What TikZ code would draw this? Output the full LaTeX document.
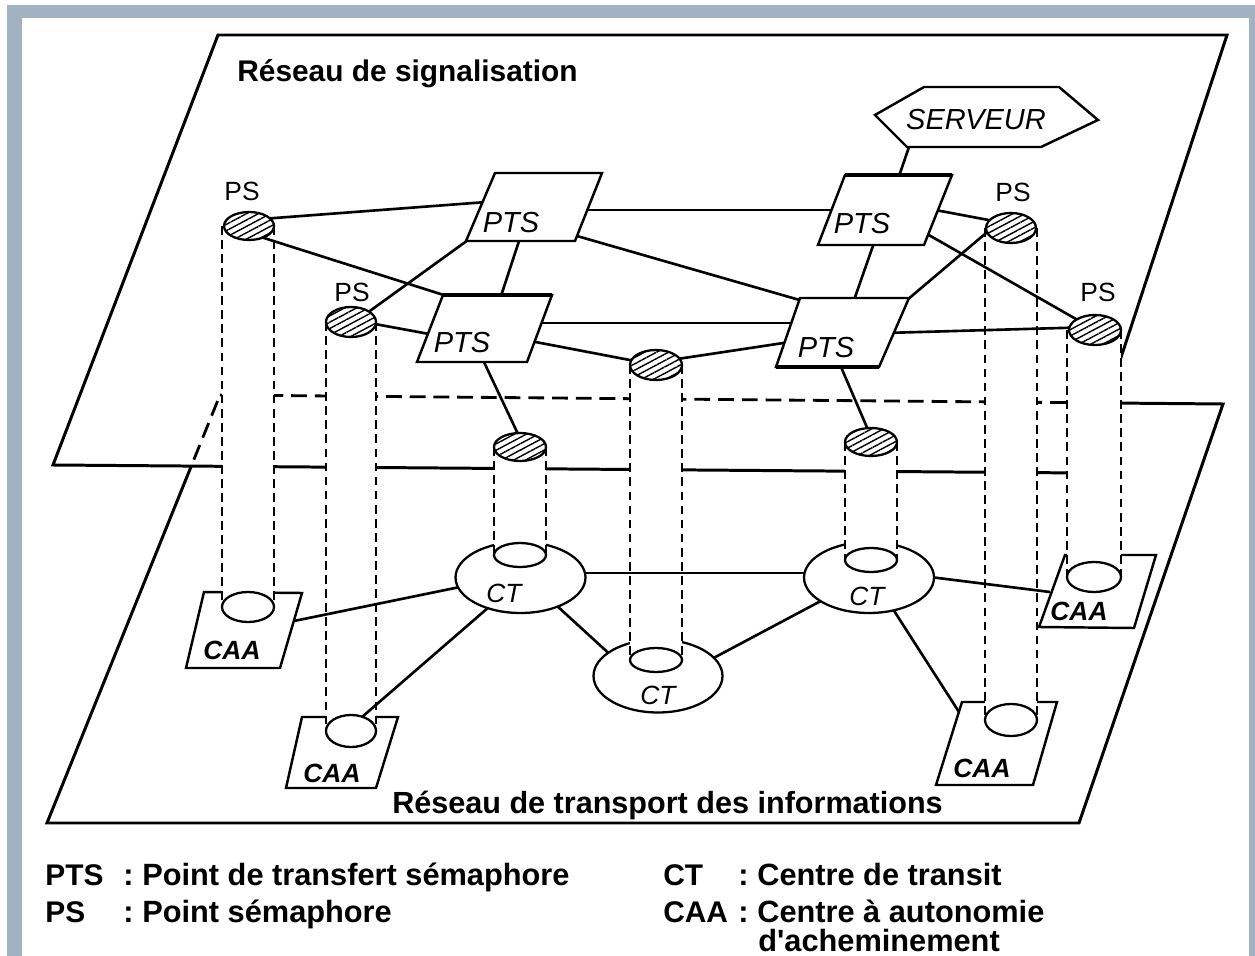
\documentclass[tikz,border=0pt]{standalone}
\usepackage{fontspec}
\setmainfont{Liberation Sans}
\usetikzlibrary{shapes.geometric,patterns.meta}
\pgfdeclarelayer{planes}
\pgfdeclarelayer{ground}
\pgfdeclarelayer{links}
\pgfsetlayers{planes,ground,links,main}
\definecolor{framegray}{RGB}{163,178,194}
\begin{document}
\begin{tikzpicture}[x=0.02cm,y=-0.02cm,
  plane/.style={line width=1.7pt, line join=miter},
  hiddenedge/.style={line width=1.6pt, dash pattern=on 9pt off 4.5pt},
  link/.style={line width=1.5pt},
  cylside/.style={line width=0.85pt, dash pattern=on 5pt off 3pt},
  ptsbox/.style={draw, fill=white, line width=1.4pt, line join=miter},
  thickedge/.style={line width=2.4pt},
  caabox/.style={draw, fill=white, line width=1.4pt, line join=miter},
  hatched/.style={ellipse, draw, line width=1.3pt, inner sep=0pt, outer sep=0pt,
    minimum width=1cm, minimum height=0.56cm,
    preaction={fill=white}, pattern={Lines[angle=28,distance=3.2pt,line width=0.8pt]}},
  ctell/.style={ellipse, draw, fill=white, line width=1.3pt, inner sep=0pt, outer sep=0pt,
    minimum width=2.6cm, minimum height=1.42cm},
  pslabel/.style={font=\fontsize{15}{15}\selectfont, inner sep=0pt},
  ptslabel/.style={font=\itshape\fontsize{16.5}{16.5}\selectfont, inner sep=0pt},
  ctlabel/.style={font=\itshape\fontsize{15}{15}\selectfont, inner sep=0pt},
  caalabel/.style={font=\bfseries\itshape\fontsize{15}{15}\selectfont, inner sep=0pt},
  title/.style={font=\bfseries\fontsize{17}{17}\selectfont, inner sep=0pt, anchor=base west},
  legkey/.style={font=\bfseries\fontsize{17}{17}\selectfont, inner sep=0pt, anchor=base west},
  legend/.style={font=\bfseries\fontsize{17.5}{17.5}\selectfont, inner sep=0pt, anchor=base west}
]
\useasboundingbox (0,0) rectangle (1255,956);

% ---------------- planes ----------------
\begin{pgfonlayer}{planes}
\fill[white] (0,0) rectangle (1255,956);
\fill[framegray] (7,5) rectangle (1255,956);
\fill[white] (22,18) rectangle (1249,956);
% bottom plane (transport)
\draw[plane] (220,395) -- (1223,404) -- (1079,823) -- (47,823) -- cycle;
% top plane (signalisation)
\draw[plane, fill=white] (218,35) -- (1227,35) -- (1083,473) -- (53,465) -- cycle;
% hidden part of the bottom plane
\begin{scope}
\clip (218,35) -- (1227,35) -- (1083,473) -- (53,465) -- cycle;
\draw[hiddenedge] (220,395) -- (1223,404) -- (1079,823) -- (47,823) -- cycle;
\end{scope}
\end{pgfonlayer}

% ---------------- transport level ----------------
\begin{pgfonlayer}{ground}
\node[ctell] (ctL) at (520.5,577.5) {};
\node[ctell] (ctR) at (869,577.5) {};
\node[ctell, minimum width=2.58cm, minimum height=1.46cm] (ctC) at (658,676) {};
\draw[caabox] (204,592) -- (302,593) -- (280,668) -- (186,668) -- cycle;
\draw[caabox] (302,717) -- (398,717) -- (376,788) -- (286,788) -- cycle;
\draw[caabox] (962,702) -- (1057,702) -- (1033,785) -- (936,785) -- cycle;
\draw[caabox] (1065,555) -- (1156,555) -- (1134,628) -- (1039,627) -- cycle;
% cylinders
\foreach \cx/\yt/\yb/\r/\ry in {248/226/607/26/15, 351/322/731/25/16, 520/447/555/26/12,
    656/365/660/26/12, 871/442/560/26/12, 1011/228/720/26/16, 1094/330/577/27/15}{
  \fill[white] (\cx-\r,\yt) rectangle (\cx+\r,\yb);
  \draw[cylside] (\cx-\r,\yt) -- (\cx-\r,\yb);
  \draw[cylside] (\cx+\r,\yt) -- (\cx+\r,\yb);
  \draw[line width=1.3pt, fill=white] (\cx,\yb) ellipse [x radius=\r, y radius=\ry];
}
\end{pgfonlayer}

% ---------------- signalling nodes ----------------
\node[hatched] (ps1) at (249,226) {};
\node[hatched, minimum height=0.6cm] (ps2) at (351,322) {};
\node[hatched, minimum width=1.04cm] (h3) at (520,447) {};
\node[hatched, minimum width=1.04cm, minimum height=0.6cm] (ps5) at (656,365) {};
\node[hatched, minimum width=1.04cm] (h5) at (871,442) {};
\node[hatched, minimum height=0.6cm] (ps3) at (1011,228) {};
\node[hatched, minimum width=1.04cm, minimum height=0.6cm] (ps4) at (1095,330) {};

% PTS boxes
\draw[ptsbox] (495,173) -- (602,173) -- (575,241) -- (466,241) -- cycle;
\draw[ptsbox] (443,295) -- (552,295) -- (527,362) -- (417,362) -- cycle;
\draw[thickedge] (443,295) -- (552,295);
\draw[ptsbox] (845,175) -- (952,175) -- (924,245) -- (818,245) -- cycle;
\draw[thickedge] (845,175) -- (952,175);
\draw[ptsbox] (800,298) -- (909,298) -- (879,367) -- (776,367) -- cycle;
\draw[thickedge] (776,367) -- (879,367);
\node[ptslabel] (ptsA) at (511,223) {PTS};
\node[ptslabel] (ptsB) at (462,343) {PTS};
\node[ptslabel] (ptsC) at (862,224) {PTS};
\node[ptslabel] (ptsD) at (826,348) {PTS};

% SERVEUR
\draw[ptsbox] (875,115) -- (924,87) -- (1059,87) -- (1098,120) -- (1041,147) -- (907,147) -- cycle;
\node[ptslabel] (serveur) at (976,120) {SERVEUR};

% link end points inside the boxes
\coordinate (srvS) at (909,147);
\coordinate (ptsA-w) at (500,201);
\coordinate (ptsA-bl) at (475,235);
\coordinate (ptsA-s) at (520,238);
\coordinate (ptsA-e) at (580,210);
\coordinate (ptsA-se) at (570,234);
\coordinate (ptsB-tl) at (455,298.6);
\coordinate (ptsB-w) at (440,336);
\coordinate (ptsB-n) at (500,299);
\coordinate (ptsB-e) at (535,323);
\coordinate (ptsB-ee) at (525,340);
\coordinate (ptsB-s) at (483,360);
\coordinate (ptsC-w) at (835,210);
\coordinate (ptsC-s) at (875,240);
\coordinate (ptsC-e) at (930,209);
\coordinate (ptsC-se) at (920,230);
\coordinate (ptsC-n) at (897,182);
\coordinate (ptsD-nw) at (810,303);
\coordinate (ptsD-w) at (800,323);
\coordinate (ptsD-ww) at (790,342);
\coordinate (ptsD-s) at (838,360);
\coordinate (ptsD-n) at (853,303);
\coordinate (ptsD-ne) at (900,306);
\coordinate (ptsD-e) at (885,333);
\coordinate (caaL-e) at (294,621);
\coordinate (caaBL-n) at (362,717);
\coordinate (caaR-w) at (1050,592);
\coordinate (caaBR-nw) at (959,712);

% ---------------- links ----------------
\begin{pgfonlayer}{links}
\draw[link] (ps1.20) -- (ptsA-w);
\draw[link] (ps1.-40) -- (ptsB-tl);
\draw[link] (ps2.30) -- (ptsA-bl);
\draw[link] (ps2.-5) -- (ptsB-w);
\draw[link] (ptsA-s) -- (ptsB-n);
\draw[link] (ptsA-e) -- (ptsC-w);
\draw[link] (ptsA-se) -- (ptsD-nw);
\draw[link] (ptsB-e) -- (ptsD-w);
\draw[link] (ptsB-ee) -- (ps5);
\draw[link] (ptsB-s) -- (h3.100);
\draw[link] (ps5.15) -- (ptsD-ww);
\draw[link] (ptsD-s) -- (h5.105);
\draw[link] (ptsC-s) -- (ptsD-n);
\draw[link] (ptsC-e) -- (ps3.160);
\draw[link] (ptsC-se) -- (ps4.150);
\draw[link] (ptsD-ne) -- (ps3.190);
\draw[link] (ptsD-e) -- (ps4.175);
\draw[link] (srvS) -- (ptsC-n);
% transport links
\draw[link] (caaL-e) -- (ctL.189);
\draw[link] (caaBL-n) -- (ctL.223);
\draw[link] (ctL.4) -- (ctR.176);
\draw[link] (ctL.-38) -- (ctC.155);
\draw[link] (ctC.18) -- (ctR.206);
\draw[link] (ctR.east) -- (caaR-w);
\draw[link] (ctR.-53) -- (caaBR-nw);
\end{pgfonlayer}

% ---------------- labels ----------------
\node[pslabel] (lps1) at (242,191) {PS};
\node[pslabel] (lps2) at (352,292) {PS};
\node[pslabel] (lps3) at (1013,192) {PS};
\node[pslabel] (lps4) at (1098,292) {PS};
\node[ctlabel] (lctL) at (504,593) {CT};
\node[ctlabel] (lctR) at (867,596) {CT};
\node[ctlabel] (lctC) at (658,695) {CT};
\node[caalabel] (caaL) at (232,650) {CAA};
\node[caalabel] (caaBL) at (332,773) {CAA};
\node[caalabel] (caaBR) at (982,768) {CAA};
\node[caalabel] (caaR) at (1079,611) {CAA};

\node[title] (t1) at (237,82) {Réseau de signalisation};
\node[title, font=\bfseries\fontsize{17.4}{17.4}\selectfont] (t2) at (392,813) {Réseau de transport des informations};

\node[legkey] (k1) at (45,885) {PTS};
\node[legend] (c1) at (123,885) {:};
\node[legend] (v1) at (142,885) {Point de transfert sémaphore};
\node[legkey] (k2) at (45,922) {PS};
\node[legend] (c2) at (123,922) {:};
\node[legend] (v2) at (142,922) {Point sémaphore};
\node[legkey] (k3) at (663,885) {CT};
\node[legend] (c3) at (738,885) {:};
\node[legend] (v3) at (757,885) {Centre de transit};
\node[legkey] (k4) at (663,922) {CAA};
\node[legend] (c4) at (738,922) {:};
\node[legend] (v4) at (757,922) {Centre à autonomie};
\node[legend] (v5) at (758,951) {d\textquotesingle acheminement};
\end{tikzpicture}
\end{document}
